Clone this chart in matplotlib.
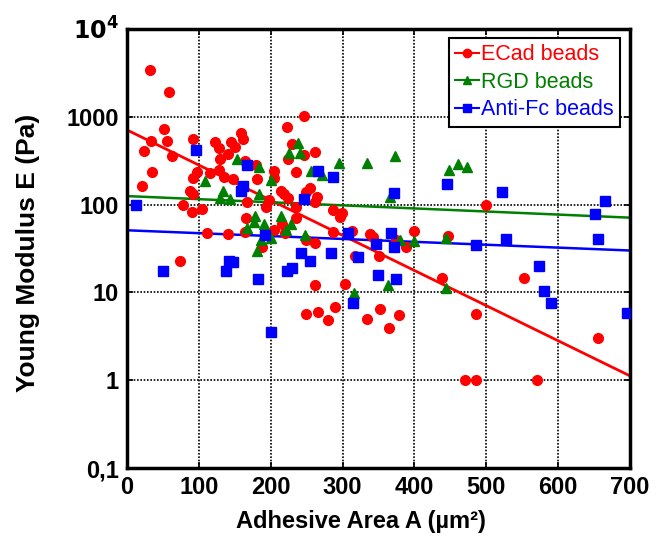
import numpy as np
import matplotlib
matplotlib.use('Agg')
import matplotlib.pyplot as plt
from matplotlib.ticker import FixedLocator, FixedFormatter, NullLocator

plt.rcParams['font.family'] = ['Liberation Sans', 'DejaVu Sans']

# ECad beads (red circles)
ecad_x = [32, 59, 52, 33, 55, 24, 63, 92, 35, 21, 98, 92, 87, 92, 78, 90, 104,
          122, 128, 145, 140, 129, 115, 128, 135, 148, 246, 223, 159, 162, 150,
          230, 262, 224, 247, 164, 180, 204, 235, 181, 205, 214, 219, 224, 249,
          255, 264, 262, 235, 167, 198, 194, 166, 235, 111, 140, 74, 164, 204,
          216, 220, 249, 262, 188, 286, 262, 287, 299, 296, 313, 338, 342, 374,
          399, 388, 447, 317, 351, 438, 304, 249, 266, 280, 289, 334, 352, 378,
          365, 471, 500, 553, 485, 655, 485, 571]
ecad_y = [3400, 1900, 720, 526, 526, 405, 357, 558, 237, 164, 233, 202, 143, 133,
          98, 82, 88, 520, 445, 510, 376, 330, 231, 248, 208, 197, 1020, 759,
          649, 558, 456, 490, 400, 328, 367, 314, 282, 243, 233, 194, 202, 144,
          132, 118, 140, 153, 123, 107, 95, 106, 113, 93, 70, 70, 47, 46, 22.6,
          49, 52, 60, 48, 40, 37, 33, 49, 12.1, 87, 80, 72, 50, 46, 43, 40, 50,
          33, 44, 26, 26, 14.5, 12.5, 5.7, 6.0, 4.8, 6.9, 5.0, 6.4, 5.5, 3.9,
          1.0, 100, 14.5, 5.7, 3.0, 1.0, 1.0]

# RGD beads (green triangles)
rgd_x = [238, 225, 241, 153, 184, 256, 272, 201, 143, 184, 178, 214, 108, 133,
         130, 177, 191, 167, 228, 221, 248, 186, 201, 181, 295, 334, 373, 448,
         460, 473, 366, 380, 399, 444, 363, 316, 444]
rgd_y = [507, 384, 390, 330, 270, 241, 217, 191, 116, 131, 74, 75, 187, 144,
         118, 64, 60, 54, 60, 52, 45, 40, 42, 30, 295, 300, 358, 248, 290, 270,
         123, 39.5, 38, 42, 12.1, 9.9, 11.1]

# Anti-Fc beads (blue squares)
afc_x = [12.5, 96, 167, 266, 286, 162, 158, 246, 50, 142, 147, 138, 192, 242,
         255, 222, 229, 182, 284, 201, 371, 446, 522, 665, 307, 368, 347, 372,
         322, 350, 374, 314, 651, 486, 528, 656, 574, 580, 590, 696]
afc_y = [100, 414, 282, 243, 204, 163, 144, 115, 17.7, 22.6, 22, 17.7, 45, 27.9,
         22.7, 17.7, 19, 14.2, 28, 3.5, 137, 172, 138, 111, 48, 48, 36, 33, 25.5,
         15.8, 14.1, 7.6, 78, 35, 40.5, 41, 20, 10.4, 7.6, 5.9]

# fitted lines, read at both ends of the x range
fit_x = [0, 700]
ecad_fit = [708, 1.12]
rgd_fit = [125, 71]
afc_fit = [51, 30]

y_ticks = [0.1, 1, 10, 100, 1000, 10000]
y_labels = ['0,1', '1', '10', '100', '1000', r'$\mathbf{10^4}$']
x_ticks = [0, 100, 200, 300, 400, 500, 600, 700]

red = '#ff0000'
green = '#008000'
blue = '#0000ff'

fig = plt.figure(figsize=(6.57, 5.47), dpi=100)
ax = fig.add_axes([0.1933, 0.1444, 0.7656, 0.8026])

ax.plot(ecad_x, ecad_y, 'o', color=red, ms=7, mec=red, zorder=3)
ax.plot(rgd_x, rgd_y, '^', color=green, ms=7.5, mec=green, zorder=3)
ax.plot(afc_x, afc_y, 's', color=blue, ms=6.5, mec=blue, zorder=3)

ax.plot(fit_x, ecad_fit, color=red, lw=2, zorder=2)
ax.plot(fit_x, rgd_fit, color=green, lw=1.8, zorder=2)
ax.plot(fit_x, afc_fit, color=blue, lw=1.8, zorder=2)

# legend handles
ax.plot([], [], '-o', color=red, ms=6, lw=1.5, label='ECad beads')
ax.plot([], [], '-^', color=green, ms=6, lw=1.5, label='RGD beads')
ax.plot([], [], '-s', color=blue, ms=5.5, lw=1.5, label='Anti-Fc beads')

ax.set_yscale('log')
ax.set_xlim(0, 700)
ax.set_ylim(0.1, 10000)
ax.xaxis.set_major_locator(FixedLocator(x_ticks))
ax.yaxis.set_major_locator(FixedLocator(y_ticks))
ax.yaxis.set_major_formatter(FixedFormatter(y_labels))
ax.yaxis.set_minor_locator(NullLocator())

ax.grid(True, color='black', linestyle=(0, (1, 1)), linewidth=1.2)
ax.tick_params(direction='in', length=4, width=1.2, top=True, right=True,
               labelsize=17, pad=6)
for lab in ax.get_xticklabels() + ax.get_yticklabels():
    lab.set_fontweight('bold')
for s in ax.spines.values():
    s.set_linewidth(2.5)

ax.set_xlabel('Adhesive Area A (µm²)', fontsize=17, fontweight='bold')
ax.set_ylabel('Young Modulus E (Pa)', fontsize=19, fontweight='bold')
ax.xaxis.set_label_coords(0.465, -0.095)
ax.yaxis.set_label_coords(-0.172, 0.49)

handles, labels = ax.get_legend_handles_labels()
leg = ax.legend(handles[-3:], labels[-3:], loc='upper right', fontsize=15.5,
                bbox_to_anchor=(0.98, 0.98), borderaxespad=0,
                handlelength=1.1, handletextpad=0.1,
                borderpad=0.3, labelspacing=0.3, fancybox=False,
                edgecolor='black', framealpha=1)
leg.get_frame().set_linewidth(1.5)
for txt, c in zip(leg.get_texts(), [red, green, blue]):
    txt.set_color(c)

plt.savefig('out.png', dpi=100)
